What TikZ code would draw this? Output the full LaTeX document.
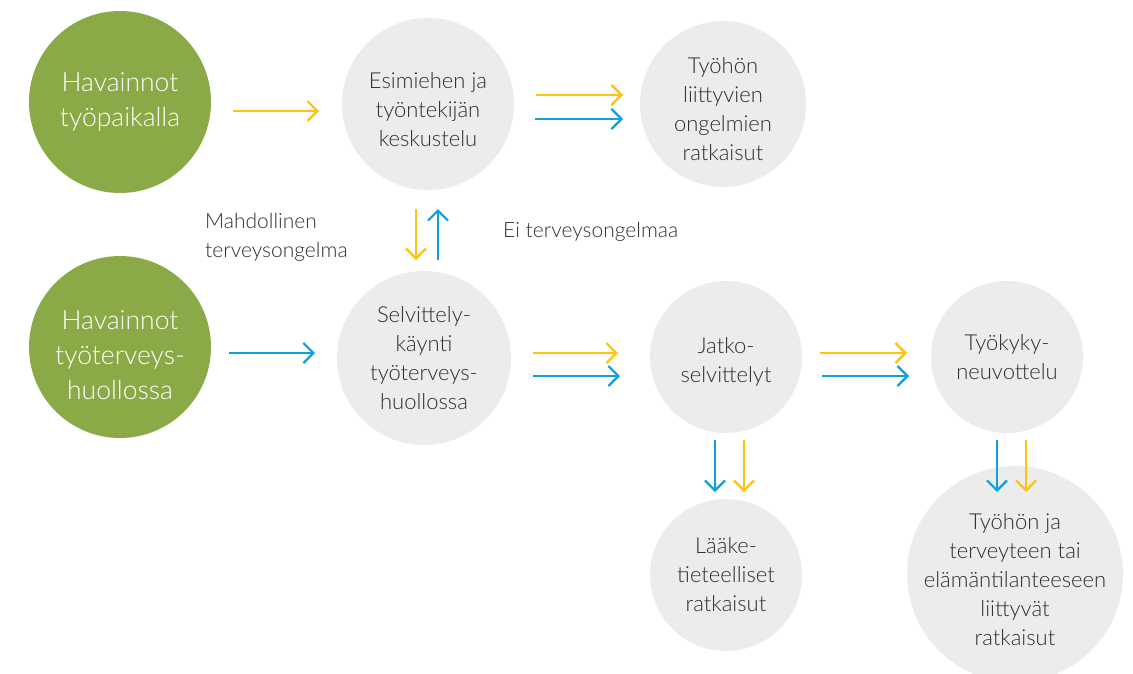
\documentclass[tikz,border=0pt]{standalone}
\usepackage{fontspec}
\setmainfont{Lato Light}
\usetikzlibrary{arrows.meta}
\usetikzlibrary{positioning}

\definecolor{leafGreen}{HTML}{8AAA47}
\definecolor{paleGrey}{HTML}{EBECEB}
\definecolor{sunYellow}{HTML}{FFC20E}
\definecolor{skyBlue}{HTML}{0EA0DC}
\definecolor{inkGrey}{HTML}{2E2E2E}

% pushes the first line of a node text down
\newcommand{\pad}[1]{\rule{0pt}{#1}}

\tikzset{
  havainto/.style={circle,fill=leafGreen,text=white,align=center,inner sep=0pt,
    font=\fontsize{26.5}{35}\selectfont},
  vaihe/.style={circle,fill=paleGrey,text=inkGrey,align=center,inner sep=0pt,
    font=\fontsize{22}{29}\selectfont},
  selite/.style={text=inkGrey,align=left,anchor=west,inner sep=0pt,
    font=\fontsize{21}{29}\selectfont},
  flowY/.style={draw=sunYellow,line width=2.2pt,-{Straight Barb[length=10pt,width=20pt]}},
  flowB/.style={draw=skyBlue,line width=2.2pt,-{Straight Barb[length=10pt,width=20pt]}}
}

\begin{document}
\begin{tikzpicture}[x=1pt,y=-1pt]

  \clip (0,0) rectangle (1133,673);

  % Starting points
  \node[havainto,minimum size=182pt] (obsWork) at (120,102) {Havainnot\\työpaikalla};
  \node[havainto,minimum size=182pt] (obsHealth) at (120,347) {\pad{35pt}Havainnot\\työterveys-\\huollossa};

  % Phases
  \node[vaihe,minimum size=172pt] (talk) at (428,104) {\pad{28pt}Esimiehen ja\\työntekijän\\keskustelu};
  \node[vaihe,minimum size=166pt] (workSol) at (723,104) {\pad{26pt}Työhön\\liittyvien\\ongelmien\\ratkaisut};
  \node[vaihe,minimum size=174pt] (visit) at (424,358) {Selvittely-\\käynti\\työterveys-\\huollossa};
  \node[vaihe,minimum size=152pt] (further) at (726,357) {\pad{26pt}Jatko-\\selvittelyt};
  \node[vaihe,minimum size=152pt] (meeting) at (1007,357) {Työkyky-\\neuvottelu};
  \node[vaihe,minimum size=152pt] (medSol) at (726,575) {Lääke-\\tieteelliset\\ratkaisut};
  \node[vaihe,minimum size=216pt,inner sep=-14pt] (lifeSol) at (1015,574) {\pad{28pt}Työhön ja\\terveyteen tai\\elämäntilanteeseen\\liittyvät\\ratkaisut};

  % Labels
  \node[selite] (maybe) at (205,237) {Mahdollinen\\terveysongelma};
  \node[selite] (noProb) at (503,232) {Ei terveysongelmaa};

  % Arrow ends
  \foreach \n/\x/\y in {a/233/111, b/319/111, c/229/353, d/315/353,
                        e/536/95, f/623/95, g/535/119, h/623/119,
                        i/416/209, j/416/260, k/438/260, l/438/209,
                        m/533/353, n/618/353, o/533/376, p/620/376,
                        q/820/353, r/907/353, s/822/376, t/909/376,
                        u/715/440, v/715/492, w/744/440, z/744/492,
                        aa/997/440, bb/997/492, cc/1026/440, dd/1026/492}
      {\coordinate (\n) at (\x,\y);}

  % Flows
  \draw [flowY] (a) -- (b);
  \draw [flowB] (c) -- (d);
  \draw [flowY] (e) -- (f);
  \draw [flowB] (g) -- (h);
  \draw [flowY] (i) -- (j);
  \draw [flowB] (k) -- (l);
  \draw [flowY] (m) -- (n);
  \draw [flowB] (o) -- (p);
  \draw [flowY] (q) -- (r);
  \draw [flowB] (s) -- (t);
  \draw [flowB] (u) -- (v);
  \draw [flowY] (w) -- (z);
  \draw [flowB] (aa) -- (bb);
  \draw [flowY] (cc) -- (dd);
\end{tikzpicture}
\end{document}
